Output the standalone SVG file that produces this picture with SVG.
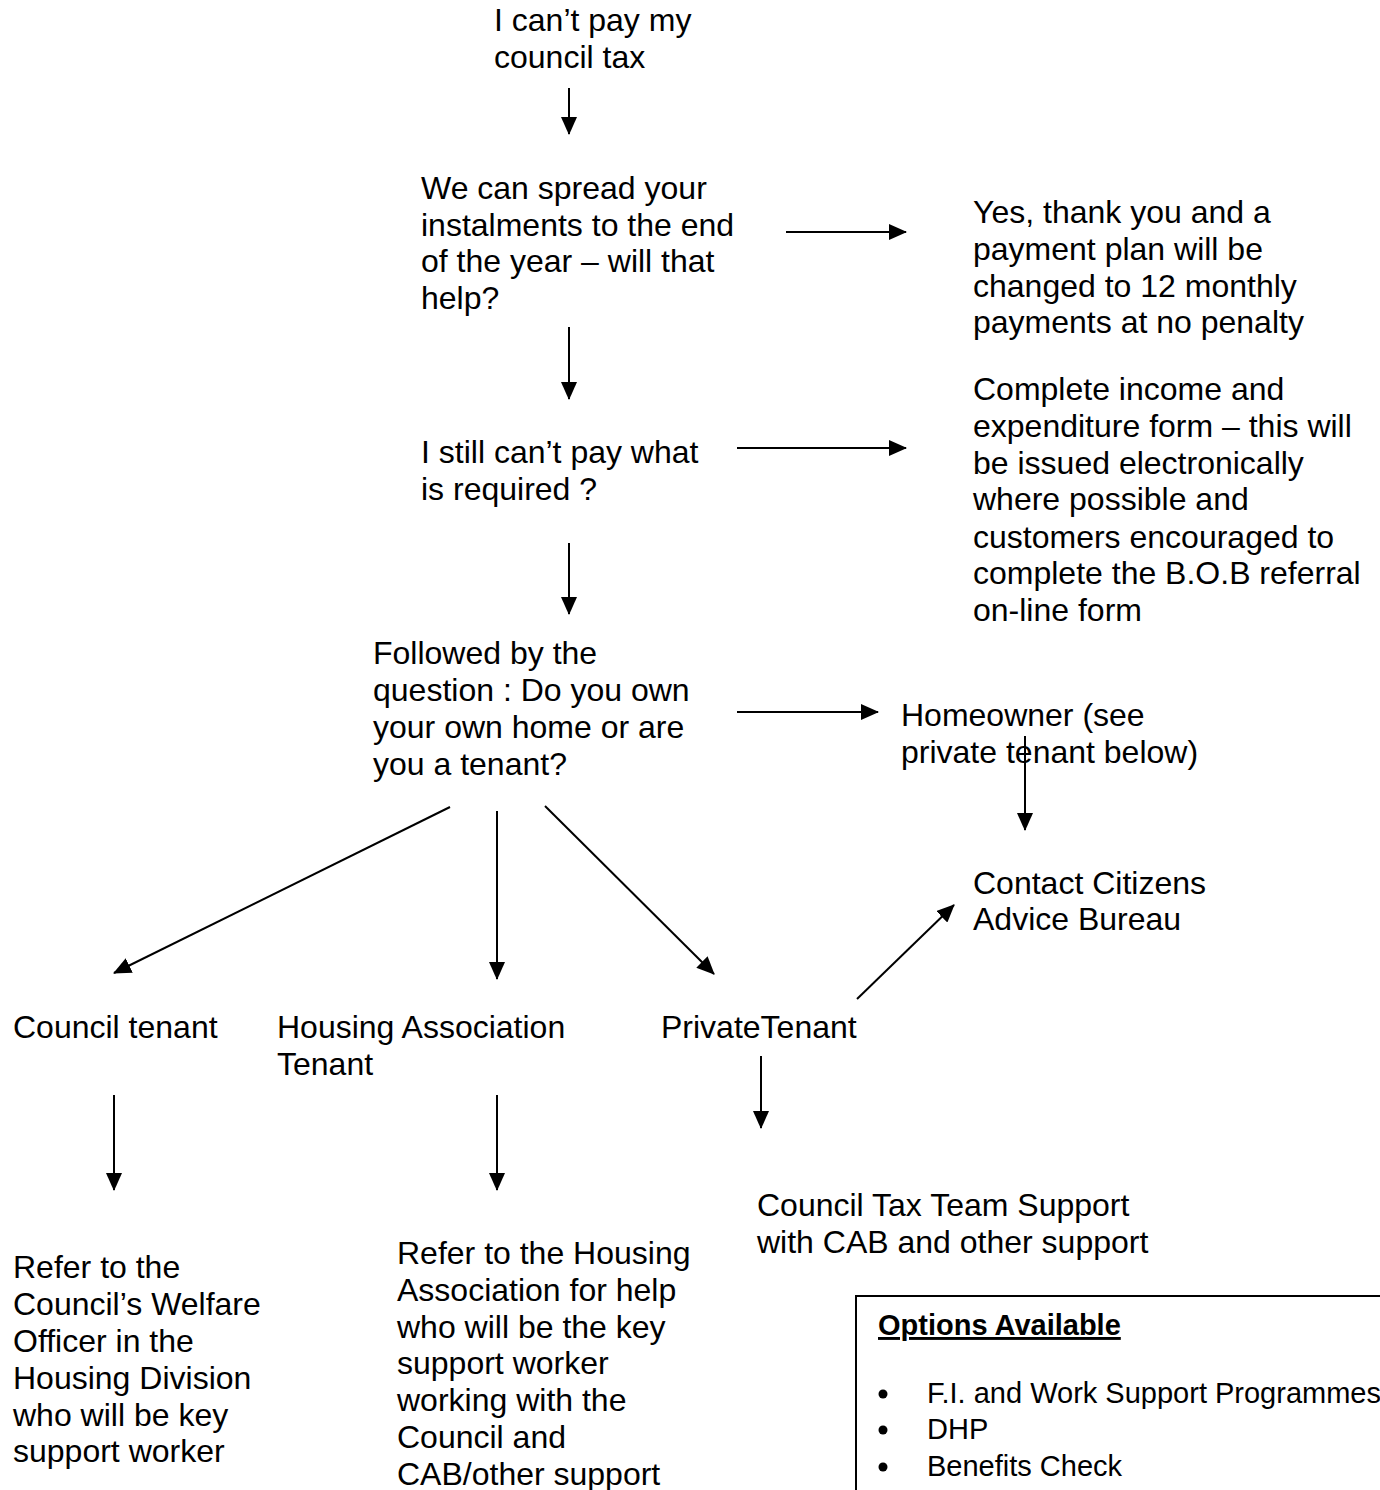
<svg xmlns="http://www.w3.org/2000/svg" width="1380" height="1490" viewBox="0 0 1380 1490">
<style>
text{font-family:"Liberation Sans",Arial,sans-serif;font-size:32px;fill:#000}
.s{font-size:29px}
.b{font-size:29px;font-weight:bold;text-decoration:underline}
.c line{stroke:#000;stroke-width:2;marker-end:url(#ah)}
</style>
<defs>
<marker id="ah" markerUnits="userSpaceOnUse" markerWidth="18" markerHeight="16" viewBox="0 0 18 16" refX="17" refY="8" orient="auto">
<path d="M0,0 L18,8 L0,16 Z" fill="#000"/>
</marker>
</defs>
<rect width="1380" height="1490" fill="#fff"/>
<g id="n1"><text x="494" y="31">I can’t pay my</text><text x="494" y="68">council tax</text></g>
<g id="n2"><text x="421" y="199">We can spread your</text><text x="421" y="236">instalments to the end</text><text x="421" y="272">of the year – will that</text><text x="421" y="309">help?</text></g>
<g id="n3"><text x="973" y="223">Yes, thank you and a</text><text x="973" y="260">payment plan will be</text><text x="973" y="297">changed to 12 monthly</text><text x="973" y="333">payments at no penalty</text></g>
<g id="n4"><text x="973" y="400">Complete income and</text><text x="973" y="437">expenditure form – this will</text><text x="973" y="474">be issued electronically</text><text x="973" y="510">where possible and</text><text x="973" y="548">customers encouraged to</text><text x="973" y="584">complete the B.O.B referral</text><text x="973" y="621">on-line form</text></g>
<g id="n5"><text x="421" y="463">I still can’t pay what</text><text x="421" y="500">is required ?</text></g>
<g id="n6"><text x="373" y="664">Followed by the</text><text x="373" y="701">question : Do you own</text><text x="373" y="738">your own home or are</text><text x="373" y="775">you a tenant?</text></g>
<g id="n7"><text x="901" y="726">Homeowner (see</text><text x="901" y="763">private tenant below)</text></g>
<g id="n8"><text x="973" y="894">Contact Citizens</text><text x="973" y="930">Advice Bureau</text></g>
<g id="n9"><text x="13" y="1038">Council tenant</text></g>
<g id="n10"><text x="277" y="1038">Housing Association</text><text x="277" y="1075">Tenant</text></g>
<g id="n11"><text x="661" y="1038">PrivateTenant</text></g>
<g id="n12"><text x="757" y="1216">Council Tax Team Support</text><text x="757" y="1253">with CAB and other support</text></g>
<g id="n13"><text x="13" y="1278">Refer to the</text><text x="13" y="1315">Council’s Welfare</text><text x="13" y="1352">Officer in the</text><text x="13" y="1389">Housing Division</text><text x="13" y="1426">who will be key</text><text x="13" y="1462">support worker</text></g>
<g id="n14"><text x="397" y="1264">Refer to the Housing</text><text x="397" y="1301">Association for help</text><text x="397" y="1338">who will be the key</text><text x="397" y="1374">support worker</text><text x="397" y="1411">working with the</text><text x="397" y="1448">Council and</text><text x="397" y="1485">CAB/other support</text></g>
<g id="n15">
<rect x="856" y="1296" width="600" height="260" fill="none" stroke="#000" stroke-width="2"/>
<text class="b" x="878" y="1335">Options Available</text>
<circle cx="883" cy="1394" r="4.5"/>
<text class="s" x="927" y="1403">F.I. and Work Support Programmes</text>
<circle cx="883" cy="1430" r="4.5"/><text class="s" x="927" y="1439">DHP</text>
<circle cx="883" cy="1467" r="4.5"/><text class="s" x="927" y="1476">Benefits Check</text>
</g>
<g class="c" id="connectors">
<line x1="569" y1="88" x2="569" y2="134"/>
<line x1="786" y1="232" x2="906" y2="232"/>
<line x1="569" y1="327" x2="569" y2="399"/>
<line x1="737" y1="448" x2="906" y2="448"/>
<line x1="569" y1="543" x2="569" y2="614"/>
<line x1="737" y1="712" x2="878" y2="712"/>
<line x1="1025" y1="736" x2="1025" y2="830"/>
<line x1="450" y1="807" x2="114" y2="973"/>
<line x1="497" y1="811" x2="497" y2="979"/>
<line x1="545" y1="806" x2="714" y2="974"/>
<line x1="857" y1="999" x2="954" y2="905"/>
<line x1="114" y1="1095" x2="114" y2="1190"/>
<line x1="497" y1="1095" x2="497" y2="1190"/>
<line x1="761" y1="1056" x2="761" y2="1128"/>
</g>
</svg>
